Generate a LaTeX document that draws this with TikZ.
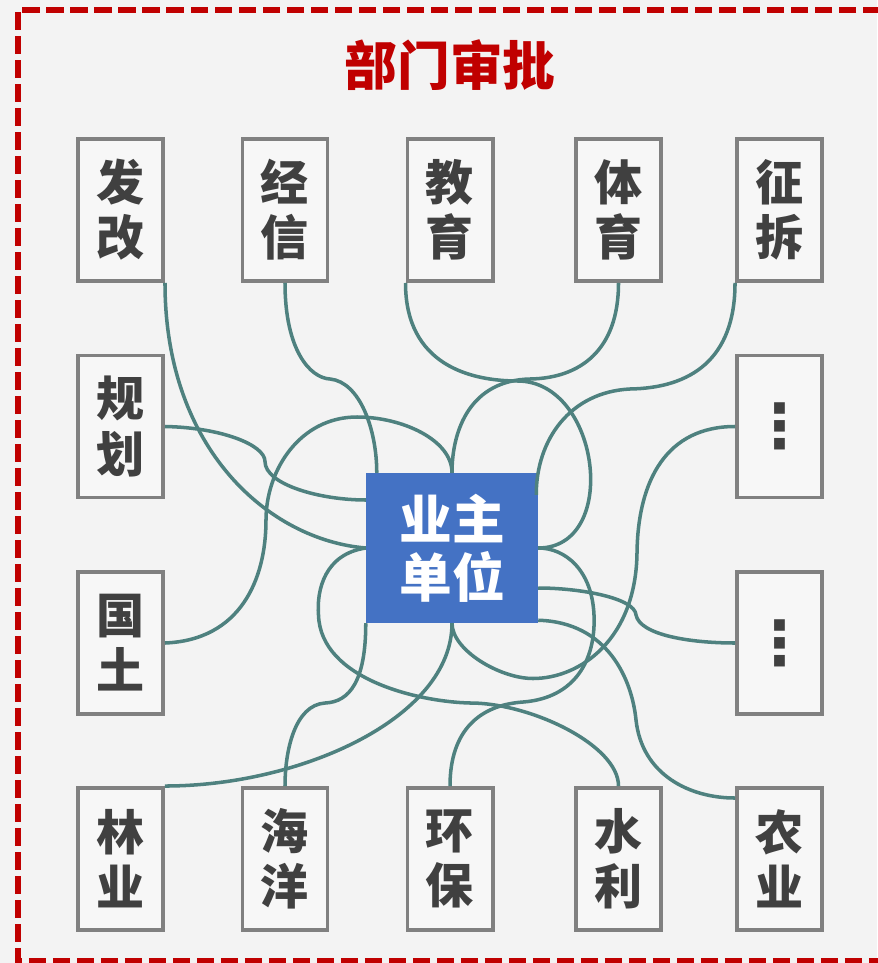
\documentclass[tikz,border=0pt]{standalone}
\usepackage{fontspec}
\newfontfamily\cjk{Noto Sans CJK SC}
\newfontfamily\symfont{DejaVu Sans}
\usetikzlibrary{calc}
\definecolor{bggray}{HTML}{F3F3F3}
\definecolor{boxfill}{HTML}{F7F7F7}
\definecolor{boxgray}{HTML}{808080}
\definecolor{deptgray}{HTML}{404040}
\definecolor{ownerblue}{HTML}{4472C4}
\definecolor{linkteal}{HTML}{4E817F}
\definecolor{framered}{HTML}{C00000}

\begin{document}
\begin{tikzpicture}[x=0.3mm, y=-0.3mm,
	dept/.style={draw=boxgray, line width=3.4pt, fill=boxfill, text=deptgray, minimum width=25.5mm, minimum height=42.6mm, inner sep=0pt, align=center, font=\cjk\bfseries\fontsize{41}{47}\selectfont},
	dotbox/.style={dept, font=\symfont\bfseries\fontsize{52}{56}\selectfont},
	ownerbox/.style={fill=ownerblue, text=white, minimum width=51.6mm, minimum height=45mm, inner sep=0pt, align=center, font=\cjk\bfseries\fontsize{45}{49.5}\selectfont},
	link/.style={draw=linkteal, line width=3pt}]
	\useasboundingbox (0,0) rectangle (877,963);
	\fill [bggray] (0,0) rectangle (877,963);
	\draw [framered, line width=5pt, dash pattern=on 5.25mm off 1.95mm] (880,10.3) -- (17.8,10.3) -- (17.8,961) -- (880,961);
	\node [text=framered, font=\cjk\bfseries\fontsize{45}{50}\selectfont] (title) at (450,65) {部门审批};

	% departments
	\node [dept] (fg) at (120.5,210) {发\\改};
	\node [dept] (jx) at (285,210) {经\\信};
	\node [dept] (jy) at (450,210) {教\\育};
	\node [dept] (ty) at (618.5,210) {体\\育};
	\node [dept] (zc) at (779.5,210) {征\\拆};
	\node [dept] (gh) at (120.5,426.5) {规\\划};
	\node [dotbox] (dotsa) at (779.5,426.5) {⋮};
	\node [dept] (gt) at (120.5,643) {国\\土};
	\node [dotbox] (dotsb) at (779.5,643) {⋮};
	\node [dept] (ly) at (120.5,859) {林\\业};
	\node [dept] (hy) at (285,859) {海\\洋};
	\node [dept] (hb) at (450,859) {环\\保};
	\node [dept] (sl) at (618.5,859) {水\\利};
	\node [dept] (ny) at (779.5,859) {农\\业};
	\node [ownerbox] (yzdw) at (452,548) {业主\\单位};

	% connectors
	\draw [link] (fg.south east) .. controls +(0,167) and +(-96,-8) .. (yzdw.west);
	\draw [link] (jx.south) .. controls +(0,67) and +(-20,-1) .. ++(45,96) .. controls +(30,3) and +(0,-43) .. ($(yzdw.north west)+(11,0)$);
	\draw [link] (jy.south west) .. controls +(0,82) and +(-47,0) .. ++(112,98) .. controls +(83,0) and +(82,0) .. (yzdw.east);
	\draw [link] (ty.south) .. controls +(0,67) and +(50,-1) .. ++(-88,96) .. controls +(-60,1) and +(0,-43) .. (yzdw.north);
	\draw [link] (zc.south west) .. controls +(0,77) and +(60,-1) .. ++(-105,106) .. controls +(-60,3) and +(0,-55) .. ($(yzdw.north east)+(-2,22)$);
	\draw [link] (gh.east) .. controls +(55,1) and +(0,-17) .. ++(100,35) .. controls +(0,23) and +(-46,0) .. ($(yzdw.west)+(0,-48)$);
	\draw [link] (dotsa.west) .. controls +(-68,0) and +(1,-73) .. ++(-98,126) .. controls +(-1,87) and +(47,0) .. ++(-104,126) .. controls +(-33,0) and +(0,27) .. (yzdw.south);
	\draw [link] (gt.east) .. controls +(75,-3) and +(0,60) .. ++(101,-123) .. controls +(0,-50) and +(-57,0) .. ++(91,-103) .. controls +(45,0) and +(0,-33) .. (yzdw.north);
	\draw [link] (dotsb.west) .. controls +(-45,0) and +(4,20) .. ++(-99,-28) .. controls +(-1,-17) and +(42,0) .. ($(yzdw.east)+(0,40)$);
	\draw [link] ($(ny.north west)+(0,12)$) .. controls +(-45,0) and +(6,55) .. ++(-99,-78) .. controls +(-4,-40) and +(70,2) .. ($(yzdw.south east)+(0,-3)$);
	\draw [link] (sl.north) .. controls +(0,-41) and +(60,0) .. ++(-148,-83) .. controls +(-50,-1) and +(2,65) .. ++(-152,-88) .. controls +(-2,-25) and +(-41,6) .. (yzdw.west);
	\draw [link] (hb.north) .. controls +(0,-56) and +(-43,3) .. ++(73,-84) .. controls +(52,-4) and +(2,45) .. ++(71,-87) .. controls +(-2,-45) and +(27,0) .. (yzdw.east);
	\draw [link] (hy.north) .. controls +(0,-36) and +(-30,2) .. ++(40,-83) .. controls +(25,-1) and +(0,57) .. (yzdw.south west);
	\draw [link] (ly.north east) .. controls +(135,0) and +(0,95) .. (yzdw.south);
\end{tikzpicture}
\end{document}
